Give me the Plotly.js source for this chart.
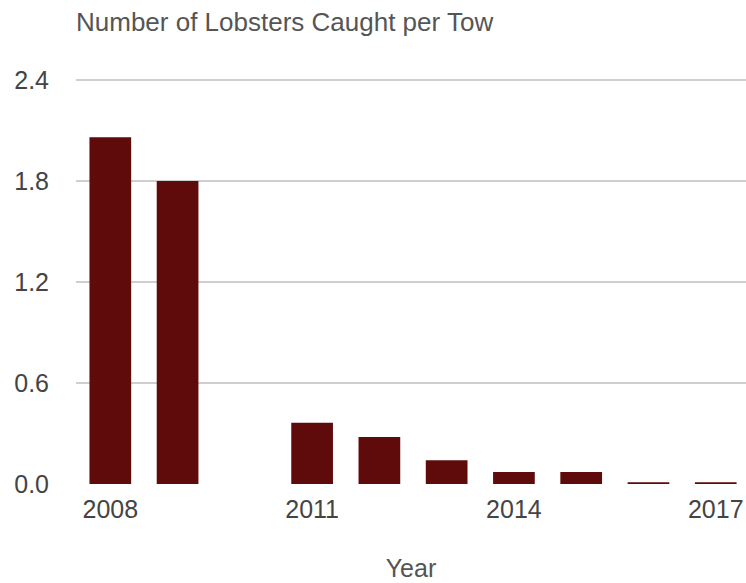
<!DOCTYPE html>
<html>
<head>
<meta charset="utf-8">
<script src="https://cdn.plot.ly/plotly-3.0.1.min.js"></script>
<style>html,body{margin:0;padding:0;background:#fff;}#chart{width:746px;height:583px;}</style>
</head>
<body>
<div id="chart"></div>
<script>
const years = [2008, 2009, 2011, 2012, 2013, 2014, 2015, 2016, 2017];
const lobstersPerTow = [2.06, 1.80, 0.364, 0.279, 0.141, 0.071, 0.071, 0.01, 0.01];
const xTickVals = [2008, 2011, 2014, 2017];
const yTickVals = [0, 0.6, 1.2, 1.8, 2.4];
const yTickText = ['0.0', '0.6', '1.2', '1.8', '2.4'];

const trace = {
  type: 'bar',
  x: years,
  y: lobstersPerTow,
  marker: {color: '#5f0b0b'},
  width: 0.62,
  hoverinfo: 'x+y'
};

const layout = {
  width: 746,
  height: 583,
  margin: {l: 76, r: 0, t: 79, b: 99},
  paper_bgcolor: '#ffffff',
  plot_bgcolor: '#ffffff',
  font: {family: 'Arial, "Liberation Sans", sans-serif', color: '#444'},
  title: {
    text: 'Number of Lobsters Caught per Tow',
    font: {size: 26, color: '#555'},
    x: 0, xref: 'paper', xanchor: 'left',
    y: 1 - 22 / 583, yref: 'container', yanchor: 'middle'
  },
  xaxis: {
    range: [2007.49, 2017.45],
    tickvals: xTickVals,
    ticktext: xTickVals.map(String),
    tickfont: {size: 25, color: '#444'},
    showgrid: false,
    zeroline: false,
    showline: false,
    ticks: '',
    ticklabelstandoff: 8,
    title: {text: 'Year', font: {size: 25, color: '#555'}, standoff: 37}
  },
  yaxis: {
    range: [0, 2.406],
    tickvals: yTickVals,
    ticktext: yTickText,
    tickfont: {size: 25, color: '#444'},
    showgrid: true,
    gridcolor: '#cfcfcf',
    gridwidth: 2,
    zeroline: false,
    showline: false,
    ticks: '',
    ticklabelstandoff: 26
  },
  bargap: 0.38,
  showlegend: false
};

Plotly.newPlot('chart', [trace], layout, {displayModeBar: false, staticPlot: true});
</script>
</body>
</html>
